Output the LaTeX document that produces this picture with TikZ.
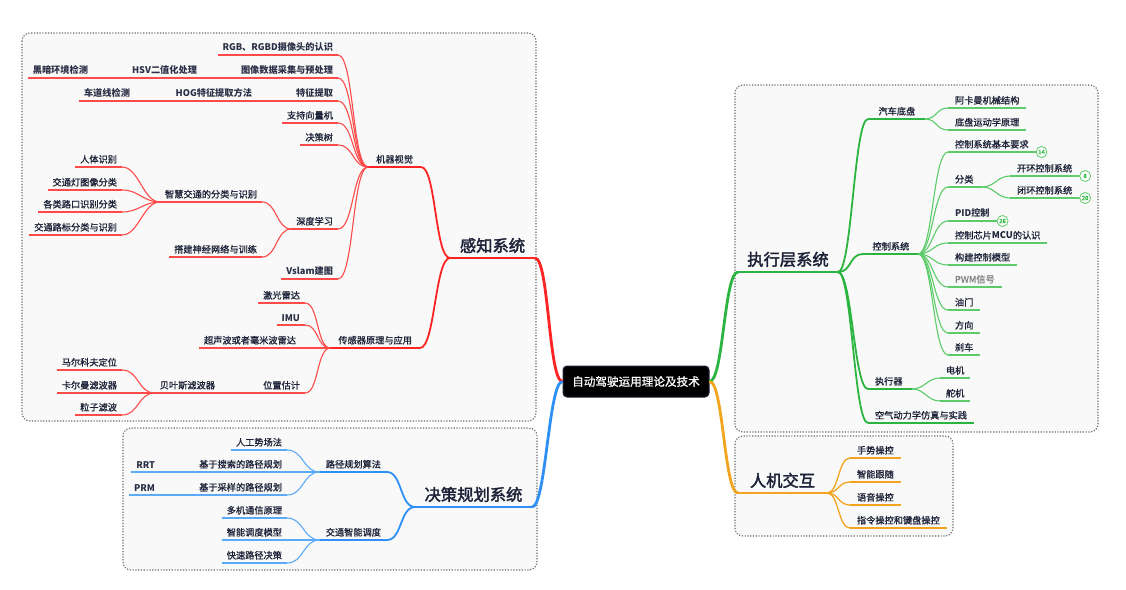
\documentclass[tikz,border=0pt]{standalone}
\usepackage{fontspec}
\setmainfont{Noto Sans CJK SC}[UprightFeatures={FakeBold=1.0}]
\newfontfamily\bigfont{Noto Sans CJK SC}[FakeBold=2.2]
\definecolor{txt}{HTML}{1D2238}
\definecolor{btxt}{HTML}{2A2F45}
\definecolor{redM}{HTML}{FF2323}
\definecolor{redS}{HTML}{FF4A4A}
\definecolor{blueM}{HTML}{2E8FF5}
\definecolor{blueS}{HTML}{5AAAF7}
\definecolor{greenM}{HTML}{2BB540}
\definecolor{greenS}{HTML}{5CCB6A}
\definecolor{orangeM}{HTML}{F2A41F}
\definecolor{frameC}{HTML}{6A6A6A}
\definecolor{frameF}{HTML}{F9F9F9}
\newcommand\lc[4]{\draw[#1] (#2.south west) .. controls +(-#4,0) and +(#4,0) .. (#3.south east);}
\newcommand\rc[4]{\draw[#1] (#2.south east) .. controls +(#4,0) and +(-#4,0) .. (#3.south west);}
\begin{document}
\begin{tikzpicture}[x=1pt,y=-1pt,
  lbl/.style={font=\fontsize{9.2}{11}\selectfont, text=txt, inner ysep=3.5pt, outer sep=0pt},
  b/.style={font=\fontsize{9.2}{11}\selectfont\bfseries, text=btxt},
  L/.style={lbl, anchor=south east, inner xsep=5pt},
  R/.style={lbl, anchor=south west, inner xsep=7pt},
  L2/.style={L, inner xsep=8pt},
  R2/.style={R, inner xsep=7pt},
  big/.style={font=\bigfont\fontsize{16.3}{19}\selectfont, text=txt, inner ysep=5pt, outer sep=0pt, anchor=south},
  rootbox/.style={fill=black, draw=txt, line width=1pt, rounded corners=4pt, text=white,
    font=\fontsize{11.6}{14}\selectfont, minimum width=146pt, minimum height=31pt, inner sep=0pt},
  frame/.style={draw=frameC, fill=frameF, line width=1.1pt, dash pattern=on 1.2pt off 1.6pt, rounded corners=8pt},
  badge/.style={circle, draw=greenS, fill=white, line width=0.8pt, minimum size=11pt, inner sep=0pt,
    font=\fontsize{6}{7}\selectfont, text=greenM, anchor=west},
  rM/.style={draw=redM, line width=2.8pt},
  rS/.style={draw=redM, line width=1.8pt},
  rT/.style={draw=redS, line width=1.1pt},
  bM/.style={draw=blueM, line width=2.8pt},
  bS/.style={draw=blueM, line width=1.8pt},
  bT/.style={draw=blueS, line width=1.1pt},
  gM/.style={draw=greenM, line width=2.8pt},
  gS/.style={draw=greenM, line width=1.8pt},
  gT/.style={draw=greenS, line width=1.1pt},
  oM/.style={draw=orangeM, line width=2.8pt},
  oT/.style={draw=orangeM, line width=1.3pt}
]
\useasboundingbox[fill=white] (0,0) rectangle (1126,589);
% frames
\draw[frame] (22,33) rectangle (536,421);
\draw[frame] (123,428) rectangle (537,570);
\draw[frame] (735,85) rectangle (1098,432);
\draw[frame] (735,436) rectangle (953,536);

% root
\node[rootbox] (root) at (636,381.5) {自动驾驶运用理论及技术};

% ===== perception =====
\node[big, minimum width=85pt] (perc) at (492.5,258) {感知系统};
\node[L2] (mv) at (421,167) {机器视觉};
\node[L2] (sens) at (420,348) {传感器原理与应用};
\node[L,b] (rgb) at (338,55) {RGB、RGBD摄像头的认识};
\node[L,b] (img) at (338,78) {图像数据采集与预处理};
\node[L,b] (hsv) at (202,78) {HSV二值化处理};
\node[L,b] (dark) at (93,78) {黑暗环境检测};
\node[L,b] (feat) at (338,101) {特征提取};
\node[L,b] (hog) at (257,101) {HOG特征提取方法};
\node[L,b] (lane) at (135,101) {车道线检测};
\node[L] (svm) at (338,123) {支持向量机};
\node[L] (dt) at (338,145) {决策树};
\node[L] (dl) at (338,229) {深度学习};
\node[L,b] (vs) at (338,279) {Vslam建图};
\node[L] (smart) at (262,202) {智慧交通的分类与识别};
\node[L] (nn) at (262,257) {搭建神经网络与训练};
\node[L] (body) at (122,167) {人体识别};
\node[L] (light) at (122,190) {交通灯图像分类};
\node[L] (cross) at (122,212) {各类路口识别分类};
\node[L] (sign) at (122,235) {交通路标分类与识别};
\node[L] (lidar) at (305,303) {激光雷达};
\node[L,b] (imu) at (305,325) {IMU};
\node[L] (ultra) at (301,348) {超声波或者毫米波雷达};
\node[L] (loc) at (305,393) {位置估计};
\node[L] (bayes) at (220,393) {贝叶斯滤波器};
\node[L] (markov) at (122,370) {马尔科夫定位};
\node[L] (kalman) at (122,393) {卡尔曼滤波器};
\node[L] (particle) at (122,415) {粒子滤波};

\draw[rM] (perc.south west) -- (perc.south east);
\draw[rM] (root.west) .. controls +(-14,0) and +(14,0) .. (perc.south east);
\foreach \n in {mv,sens} \draw[rS] (\n.south west) -- (\n.south east);
\foreach \n in {rgb,img,hsv,dark,feat,hog,lane,svm,dt,dl,vs,smart,nn,body,light,cross,sign,lidar,imu,ultra,loc,bayes,markov,kalman,particle}
  \draw[rT] (\n.south west) -- (\n.south east);
\lc{rS}{perc}{mv}{15}
\lc{rS}{perc}{sens}{15}
\foreach \n in {rgb,img,feat,svm,dt,dl,vs} {\lc{rT}{mv}{\n}{16}}
\draw[rT] (img.south west) -- (hsv.south east);
\draw[rT] (hsv.south west) -- (dark.south east);
\draw[rT] (feat.south west) -- (hog.south east);
\draw[rT] (hog.south west) -- (lane.south east);
\foreach \n in {smart,nn} {\lc{rT}{dl}{\n}{15}}
\foreach \n in {body,light,cross,sign} {\lc{rT}{smart}{\n}{17}}
\foreach \n in {lidar,imu,ultra,loc} {\lc{rT}{sens}{\n}{14}}
\draw[rT] (loc.south west) -- (bayes.south east);
\foreach \n in {markov,kalman,particle} {\lc{rT}{bayes}{\n}{17}}

% ===== decision =====
\node[big, minimum width=117pt] (dec) at (473.5,507) {决策规划系统};
\node[L, inner xsep=6pt] (path) at (387,472) {路径规划算法};
\node[L, inner xsep=6pt] (traffic) at (387,540) {交通智能调度};
\node[L] (apf) at (287,450) {人工势场法};
\node[L] (search) at (287,472) {基于搜索的路径规划};
\node[L] (sample) at (287,495) {基于采样的路径规划};
\node[L,b] (rrt) at (160,472) {RRT};
\node[L,b] (prm) at (160,495) {PRM};
\node[L] (multi) at (287,518) {多机通信原理};
\node[L] (sched) at (287,540) {智能调度模型};
\node[L] (fast) at (287,563) {快速路径决策};

\draw[bM] (dec.south west) -- (dec.south east);
\draw[bM] (root.west) .. controls +(-14,0) and +(14,0) .. (dec.south east);
\foreach \n in {path,traffic} {\draw[bS] (\n.south west) -- (\n.south east); \lc{bS}{dec}{\n}{15}}
\foreach \n in {apf,search,sample,rrt,prm,multi,sched,fast} \draw[bT] (\n.south west) -- (\n.south east);
\foreach \n in {apf,search,sample} {\lc{bT}{path}{\n}{17}}
\foreach \n in {multi,sched,fast} {\lc{bT}{traffic}{\n}{17}}
\draw[bT] (search.south west) -- (rrt.south east);
\draw[bT] (sample.south west) -- (prm.south east);

% ===== execution =====
\node[big, minimum width=100pt] (exe) at (788,272) {执行层系统};
\node[R2, minimum width=57pt, align=left, text width=36pt] (chassis) at (868,119) {汽车底盘};
\node[R2, minimum width=55pt, text width=36pt] (ctrl) at (863,254) {控制系统};
\node[R2, text width=30pt] (act) at (868,389) {执行器};
\node[R2] (aero) at (868,423) {空气动力学仿真与实践};
\node[R] (ackermann) at (948,108) {阿卡曼机械结构};
\node[R] (kin) at (948,130) {底盘运动学原理};
\node[R] (req) at (948,152) {控制系统基本要求};
\node[R, text width=20pt] (cls) at (948,187) {分类};
\node[R,b] (pid) at (948,221) {PID控制};
\node[R] (mcu) at (948,243) {控制芯片{\bfseries MCU}的认识};
\node[R] (model) at (948,265) {构建控制模型};
\node[R, text=gray] (pwm) at (948,287) {PWM信号};
\node[R] (thr) at (948,310) {油门};
\node[R] (dir) at (948,333) {方向};
\node[R] (brk) at (948,355) {刹车};
\node[R] (open) at (1010,176) {开环控制系统};
\node[R] (closed) at (1010,198) {闭环控制系统};
\node[R, inner xsep=6pt] (motor) at (940,378) {电机};
\node[R, inner xsep=6pt] (servo) at (940,401) {舵机};

\draw[gM] (exe.south west) -- (exe.south east);
\draw[gM] (root.east) .. controls +(14,0) and +(-14,0) .. (exe.south west);
\foreach \n in {chassis,ctrl,act,aero} {\draw[gS] (\n.south west) -- (\n.south east); \rc{gS}{exe}{\n}{14}}
\foreach \n in {ackermann,kin,req,cls,pid,mcu,model,pwm,thr,dir,brk,open,closed,motor,servo}
  \draw[gT] (\n.south west) -- (\n.south east);
\foreach \n in {ackermann,kin} {\rc{gT}{chassis}{\n}{12}}
\foreach \n in {req,cls,pid,mcu,model,pwm,thr,dir,brk} {\rc{gT}{ctrl}{\n}{15}}
\foreach \n in {open,closed} {\rc{gT}{cls}{\n}{13}}
\foreach \n in {motor,servo} {\rc{gT}{act}{\n}{13}}
\node[badge] (b14) at (req.south east) {14};
\node[badge] (b8) at (open.south east) {8};
\node[badge] (b20) at (closed.south east) {20};
\node[badge] (b26) at (pid.south east) {26};

% ===== HCI =====
\node[big, minimum width=89pt] (hci) at (782.5,493) {人机交互};
\node[R] (g1) at (850,458) {手势操控};
\node[R] (g2) at (850,482) {智能跟随};
\node[R] (g3) at (850,505) {语音操控};
\node[R] (g4) at (850,528) {指令操控和键盘操控};
\draw[oM] (hci.south west) -- (hci.south east);
\draw[oM] (root.east) .. controls +(14,0) and +(-14,0) .. (hci.south west);
\foreach \n in {g1,g2,g3,g4} {\draw[oT] (\n.south west) -- (\n.south east); \rc{oT}{hci}{\n}{12}}
\end{tikzpicture}
\end{document}
